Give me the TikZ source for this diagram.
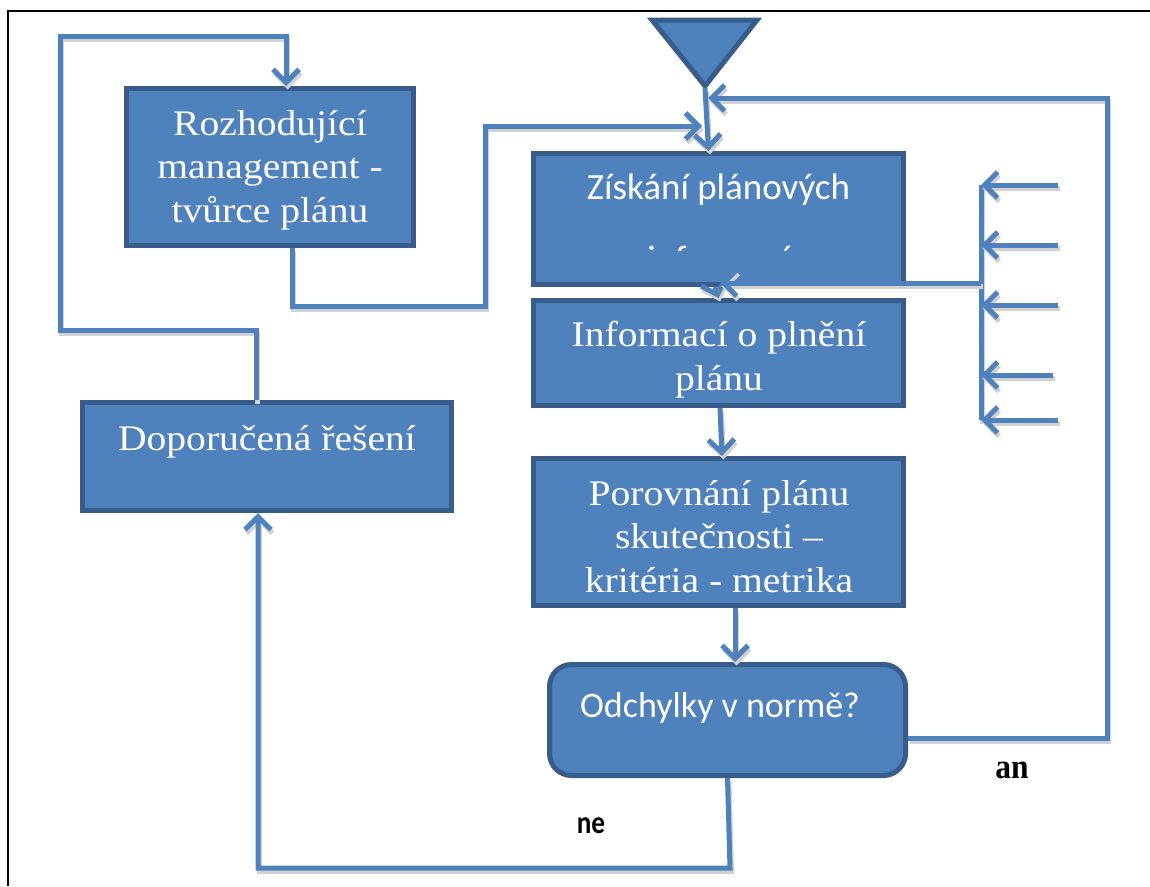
\documentclass[tikz,border=0pt]{standalone}
\usepackage{fontspec}
\setmainfont{Liberation Serif}[FakeStretch=1.1]
\newfontfamily\calfont{Carlito}
\newfontfamily\labserif{Liberation Serif}[FakeStretch=0.9]
\newfontfamily\labsans{Carlito}[FakeStretch=0.85]
\usetikzlibrary{arrows.meta}
\definecolor{boxfill}{HTML}{4F81BD}
\definecolor{boxline}{HTML}{385D8A}
\definecolor{conncol}{HTML}{4F81BD}
\begin{document}
\begin{tikzpicture}[x=1pt,y=-1pt,
  box/.style={draw=boxline, line width=5pt, fill=boxfill, inner sep=0pt, outer sep=2.5pt},
  conn/.style={draw=conncol, line width=5pt, preaction={draw=black!18, line width=5pt, transform canvas={shift={(1.5pt,-3.5pt)}}}},
  arr/.style={conn, -{Straight Barb[length=13pt,width=26pt]}},
  txt/.style={text=white, font=\fontsize{36pt}{43.5pt}\selectfont, anchor=base, align=center, inner sep=0pt},
]
\useasboundingbox (0,0) rectangle (1150,886);
\draw[line width=2pt] (8,886) -- (8,11) -- (1150,11);

% boxes
\node[box, minimum width=287pt, minimum height=157pt] (rm) at (270,167) {};
\node[box, minimum width=370pt, minimum height=131pt] (g2) at (718.5,219) {};
\node[box, minimum width=370pt, minimum height=105pt] (g3) at (718.5,353) {};
\node[box, minimum width=370pt, minimum height=147pt] (g4) at (718.5,532) {};
\node[box, rounded corners=22pt, minimum width=356pt, minimum height=111pt] (od) at (727.5,720) {};
\node[box, minimum width=369pt, minimum height=108pt] (dop) at (267,456.5) {};
\draw[draw=boxline, fill=boxfill, line width=5pt] (652,20) -- (757,20) -- (705,86) -- cycle;
\coordinate (tri) at (705,88);

% texts (base = baseline of the last line)
\node[txt] (t1) at (270,222) {Rozhodující\\management -\\tvůrce plánu};
\begin{scope}
  \clip (533,153) rectangle (904,250);
  \node[txt, font={\calfont\fontsize{37pt}{72pt}\selectfont}] (t2) at (718.5,271) {Získání plánových\\informací};
\end{scope}
\node[txt] (t3) at (719,390) {Informací o plnění\\plánu};
\node[txt] (t4) at (719,592) {Porovnání plánu\\skutečnosti –\\kritéria - metrika};
\node[txt, font={\calfont\fontsize{36pt}{43pt}\selectfont}] (t5) at (720,717) {Odchylky v normě?};
\node[txt] (t6) at (267,450) {Doporučená řešení};
\node[font={\labserif\bfseries\fontsize{35pt}{40pt}\selectfont}, anchor=base, inner sep=0pt] (an) at (1012,778) {an};
\node[font={\labsans\bfseries\fontsize{32pt}{38pt}\selectfont}, anchor=base, inner sep=0pt] (ne) at (591,833) {ne};

% coordinates
\coordinate (j1) at (702,126);
\coordinate (j2) at (708,98);
\coordinate (ct) at (981,185);
\coordinate (cb) at (981,420);
\coordinate (cm) at (981,283);
\coordinate (j3) at (720,283);

% connectors
\draw[arr] ([xshift=-11pt]dop.north) -- ++(0,-70) -| (60,36) -| ([xshift=16pt]rm.north);
\draw[arr] ([xshift=22pt]rm.south) |- (485,306) |- (j1);
\draw[arr] (tri) -- ([xshift=-10pt]g2.north);
\draw[arr] ([yshift=-18pt]od.east) -| (1107,98) -- (j2);
\draw[arr] ([xshift=-3.5pt]g2.south) -- (g3.north);
\draw[arr] ([xshift=1.5pt]g3.south) -- ([xshift=3.5pt]g4.north);
\draw[arr] ([xshift=16.5pt]g4.south) -- ([xshift=7.5pt]od.north);
\draw[arr] (od.south) -- (730,868) -| ([xshift=-9pt]dop.south);

% comb on the right
\draw[conn] (ct) -- (cb);
\draw[arr] (cm) -- (j3);
\foreach \yy/\xx/\nm in {185/1058/s1, 245/1058/s2, 305/1058/s3, 375/1053/s4, 420/1058/s5} {
  \coordinate (\nm) at (\xx,\yy);
  \coordinate (\nm e) at (981,\yy);
  \draw[arr] (\nm) -- (\nm e);
}
\end{tikzpicture}
\end{document}
